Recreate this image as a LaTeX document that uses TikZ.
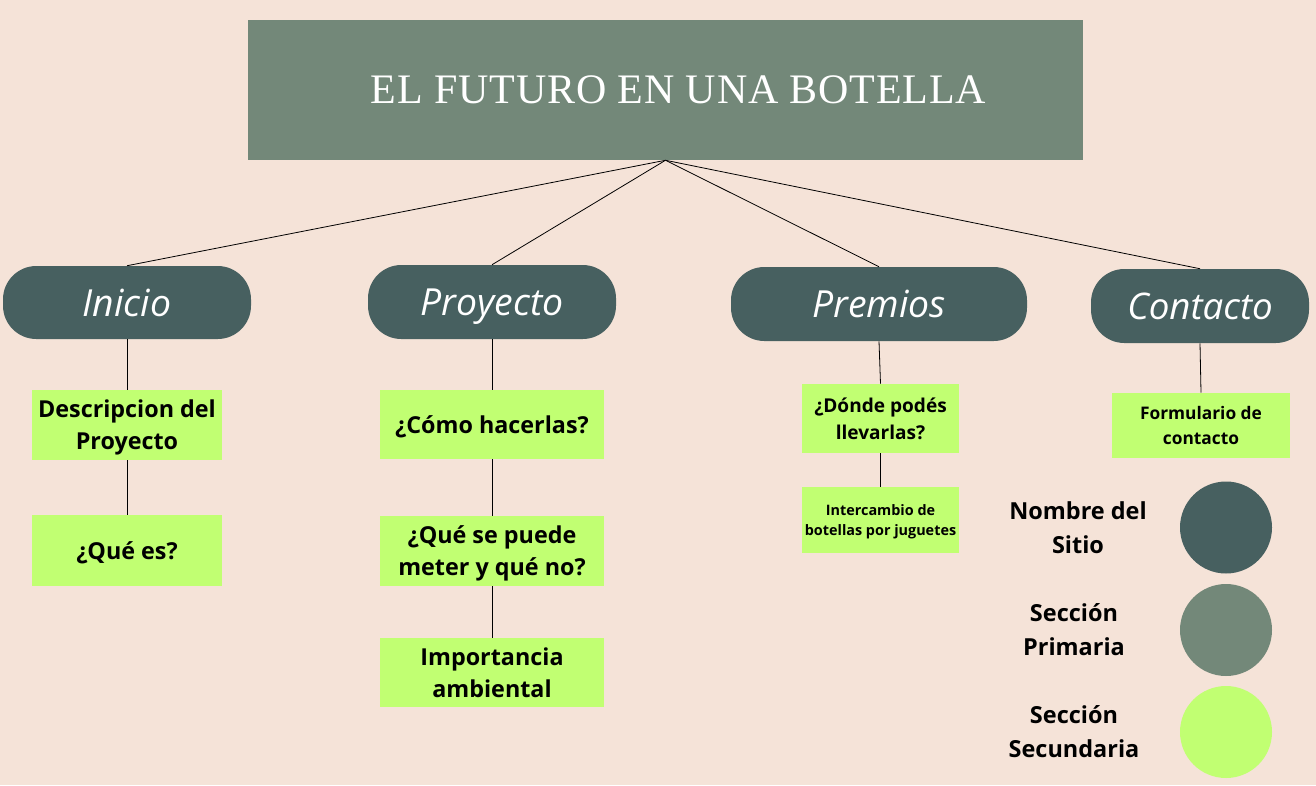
\documentclass[tikz,border=0pt]{standalone}
\usepackage{fontspec}
\setmainfont{Open Sans}
\newfontfamily\titlefont[LetterSpace=2]{Liberation Serif}
\definecolor{bg}{HTML}{F5E3D8}
\definecolor{primary}{HTML}{738879}
\definecolor{site}{HTML}{476060}
\definecolor{second}{HTML}{C1FF72}
\begin{document}
\begin{tikzpicture}[x=0.75pt,y=-0.75pt,
  pill/.style={fill=site, rounded corners=25pt, text=white, font=\fontsize{28}{32}\selectfont\itshape, inner sep=0pt, text depth=0pt},
  sbox/.style={fill=second, text=black, align=center, inner sep=0pt, text depth=0pt, font=\bfseries\fontsize{17.5}{24}\selectfont},
  link/.style={draw=black, line width=0.6pt},
  legtext/.style={align=center, text=black, font=\bfseries\fontsize{17.6}{25.5}\selectfont}]
\fill[bg] (0,0) rectangle (1316,785);
\useasboundingbox (0,0) rectangle (1316,785);
% title
\node[fill=primary, minimum width=835*0.75pt, minimum height=140*0.75pt, inner sep=0pt] (title) at (665.5,90) {};
\node[text=white, inner sep=0pt, font=\titlefont\fontsize{31.5}{36}\selectfont] (titletext) at (678.5,90) {EL FUTURO EN UNA BOTELLA};
% site nodes
\node[pill, minimum width=248*0.75pt, minimum height=73*0.75pt] (inicio) at (127,302.5) {Inicio};
\node[pill, minimum width=248*0.75pt, minimum height=74*0.75pt] (proyecto) at (492,302) {Proyecto};
\node[pill, minimum width=296*0.75pt, minimum height=74*0.75pt] (premios) at (879,304) {Premios};
\node[pill, minimum width=218*0.75pt, minimum height=74*0.75pt, font=\fontsize{27.5}{32}\selectfont\itshape] (contacto) at (1200,306) {Contacto};
% secondary boxes
\node[sbox, minimum width=190*0.75pt, minimum height=70*0.75pt] (desc) at (127,425) {Descripcion del\\Proyecto};
\node[sbox, minimum width=190*0.75pt, minimum height=71*0.75pt] (que) at (127,550.5) {¿Qué es?};
\node[sbox, minimum width=224*0.75pt, minimum height=69*0.75pt] (como) at (492,424.5) {¿Cómo hacerlas?};
\node[sbox, minimum width=224*0.75pt, minimum height=70*0.75pt] (meter) at (492,551) {¿Qué se puede\\meter y qué no?};
\node[sbox, minimum width=224*0.75pt, minimum height=69*0.75pt] (imp) at (492,672.5) {Importancia\\ambiental};
\node[sbox, minimum width=157*0.75pt, minimum height=69*0.75pt, font=\bfseries\fontsize{14.3}{20}\selectfont] (donde) at (880.5,418.5) {¿Dónde podés\\llevarlas?};
\node[sbox, minimum width=157*0.75pt, minimum height=66*0.75pt, font=\bfseries\fontsize{10.8}{14.5}\selectfont] (inter) at (880.5,520) {Intercambio de\\botellas por juguetes};
\node[sbox, minimum width=178*0.75pt, minimum height=65*0.75pt, font=\bfseries\fontsize{13}{18.5}\selectfont] (form) at (1201,425.5) {Formulario de\\contacto};
% connectors
\draw[link] (title.south) -- (inicio.north);
\draw[link] (title.south) -- (proyecto.north);
\draw[link] (title.south) -- (premios.north);
\draw[link] (title.south) -- (contacto.north);
\draw[link] (inicio.south) -- (desc.north);
\draw[link] (desc.south) -- (que.north);
\draw[link] (proyecto.south) -- (como.north);
\draw[link] (como.south) -- (meter.north);
\draw[link] (meter.south) -- (imp.north);
\draw[link] (premios.south) -- (donde.north);
\draw[link] (donde.south) -- (inter.north);
\draw[link] (contacto.south) -- (form.north);
% legend
\node[circle, fill=site, minimum size=92*0.75pt, inner sep=0pt] (c1) at (1226,527.5) {};
\node[circle, fill=primary, minimum size=92*0.75pt, inner sep=0pt] (c2) at (1226,630) {};
\node[circle, fill=second, minimum size=92*0.75pt, inner sep=0pt] (c3) at (1226,732) {};
\node[legtext] (l1) at (1078,528) {Nombre del\\Sitio};
\node[legtext] (l2) at (1074,630) {Sección\\Primaria};
\node[legtext] (l3) at (1074,732) {Sección\\Secundaria};
\end{tikzpicture}
\end{document}
